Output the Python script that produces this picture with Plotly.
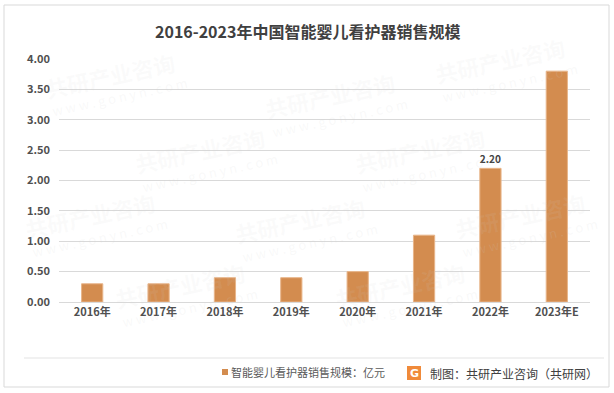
import plotly.graph_objects as go

years = ["2016年", "2017年", "2018年", "2019年", "2020年", "2021年", "2022年", "2023年E"]
values = [0.30, 0.30, 0.40, 0.40, 0.50, 1.10, 2.20, 3.80]
labels = ["", "", "", "", "", "", "2.20", ""]
tick_vals = [0, 0.5, 1, 1.5, 2, 2.5, 3, 3.5, 4]
tick_text = ["0.00", "0.50", "1.00", "1.50", "2.00", "2.50", "3.00", "3.50", "4.00"]
title = "2016-2023年中国智能婴儿看护器销售规模"
legend_name = "智能婴儿看护器销售规模：亿元"
source = "制图：共研产业咨询（共研网）"

W, H = 614, 393
L, R, T, B = 59, 590, 59, 302
FONT = "Noto Sans CJK SC"
BAR = "#D38C4F"
GRAY = "#595959"

def px(x):
    return (x - L) / (R - L)

def py(y):
    return (B - y) / (B - T)

fig = go.Figure()
fig.add_trace(go.Bar(
    x=years, y=values, name=legend_name,
    marker=dict(color=BAR, line=dict(color="#E8B58A", width=1)),
    text=labels, textposition="outside", cliponaxis=False,
    textfont=dict(family=FONT, size=11, color="#404040", weight="bold"),
    showlegend=False,
))

shapes = []
shapes.append(dict(type="rect", xref="paper", yref="paper",
                   x0=px(4), x1=px(609), y0=py(387), y1=py(5),
                   line=dict(color="#D9D9D9", width=1), layer="below"))
shapes.append(dict(type="line", xref="paper", yref="paper",
                   x0=px(24), x1=px(604), y0=py(358), y1=py(358),
                   line=dict(color="#E3E3E3", width=1)))
shapes.append(dict(type="rect", xref="paper", yref="paper",
                   x0=px(222), x1=px(228), y0=py(375), y1=py(369),
                   fillcolor=BAR, line=dict(width=0)))
shapes.append(dict(type="rect", xref="paper", yref="paper",
                   x0=px(407), x1=px(421), y0=py(380), y1=py(366),
                   fillcolor="#F08A3A", line=dict(width=0)))

annotations = [
    dict(text="<b>" + title + "</b>", xref="paper", yref="paper",
         x=px(307), y=py(31), xanchor="center", yanchor="middle", showarrow=False,
         font=dict(family=FONT, size=16, color="#404040")),
    dict(text=legend_name, xref="paper", yref="paper",
         x=px(229), y=py(372), xanchor="left", yanchor="middle", showarrow=False,
         font=dict(family=FONT, size=11, color=GRAY)),
    dict(text="<b>G</b>", xref="paper", yref="paper",
         x=px(414), y=py(373), xanchor="center", yanchor="middle", showarrow=False,
         font=dict(family="DejaVu Sans", size=11, color="white")),
    dict(text=source, xref="paper", yref="paper",
         x=px(428), y=py(373), xanchor="left", yanchor="middle", showarrow=False,
         font=dict(family=FONT, size=12, color="#404040")),
]

wm_pos = [(110, 75), (330, 95), (500, 60), (200, 150), (420, 150),
          (90, 215), (300, 220), (520, 215), (180, 285), (400, 285)]
for (wx, wy) in wm_pos:
    annotations.append(dict(text="<b>共研产业咨询</b>", xref="paper", yref="paper",
                            x=px(wx), y=py(wy), xanchor="center", yanchor="middle",
                            showarrow=False, textangle=-12,
                            font=dict(family=FONT, size=22, color="rgba(210,210,210,0.10)")))
    annotations.append(dict(text="w w w . g o n y n . c o m", xref="paper", yref="paper",
                            x=px(wx + 10), y=py(wy + 22), xanchor="center", yanchor="middle",
                            showarrow=False, textangle=-12,
                            font=dict(family=FONT, size=13, color="rgba(210,210,210,0.14)")))

tick_font = dict(family=FONT, size=11, color="#505050", weight=600)

fig.update_layout(
    width=W, height=H,
    margin=dict(l=L, r=W - R, t=T, b=H - B),
    paper_bgcolor="white", plot_bgcolor="white",
    bargap=0.68,
    font=dict(family=FONT, color=GRAY),
    xaxis=dict(showline=True, linecolor="#D9D9D9", linewidth=1, ticks="",
               tickfont=tick_font),
    yaxis=dict(range=[0, 4], tickvals=tick_vals, ticktext=tick_text,
               showgrid=True, gridcolor="#D9D9D9", gridwidth=1, zeroline=False,
               tickfont=tick_font, ticklabelstandoff=8),
    shapes=shapes, annotations=annotations,
)

fig.write_html("out.html", config={"displayModeBar": False},
               post_script="document.body.style.margin='0';")
